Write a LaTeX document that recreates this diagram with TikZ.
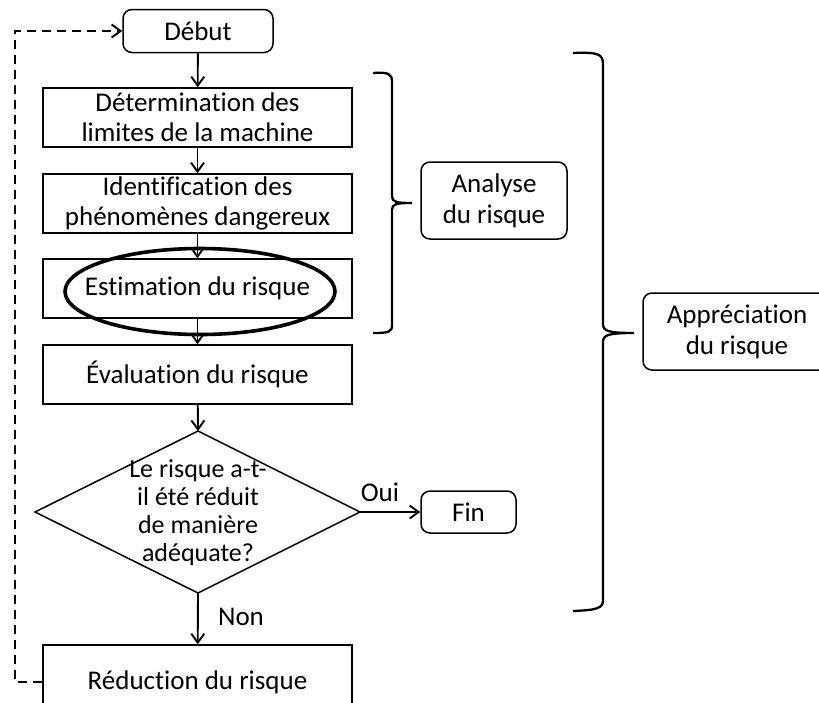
\documentclass[tikz,border=0pt]{standalone}
\usepackage{fontspec}
\setmainfont{Carlito}[RawFeature=-liga]
\usetikzlibrary{arrows.meta}

\tikzset{
  box/.style={draw, line width=1.5pt, minimum width=309pt, minimum height=59pt,
              inner sep=0pt, align=center, font=\fontsize{27}{30}\selectfont},
  rbox/.style={draw, line width=1.5pt, rounded corners=9pt, inner sep=0pt,
               align=center, font=\fontsize{27}{31}\selectfont},
  flow/.style={line width=1.9pt, -{Straight Barb[length=9pt,width=13pt]}},
  loop/.style={line width=1.9pt, dash pattern=on 9pt off 6pt,
               -{Straight Barb[length=9pt,width=13pt]}},
  brace/.style={line width=2.3pt},
  lbl/.style={font=\fontsize{27}{30}\selectfont, inner sep=0pt}
}

\begin{document}
\begin{tikzpicture}[x=1pt, y=-1pt]
\useasboundingbox (0,0) rectangle (819,702);

% start / process boxes
\node[rbox, minimum width=150pt, minimum height=43pt] (debut) at (198,31) {Début};
\node[box] (lim)  at (197.5,117.5) {Détermination des\\limites de la machine};
\node[box] (ident) at (197.5,203.5) {Identification des\\phénomènes dangereux};
\node[box] (estim) at (197.5,288.5) {Estimation du risque};
\node[box] (eval) at (197.5,374.5) {Évaluation du risque};
\node[box, minimum height=74pt] (reduc) at (197.5,682) {};
\node[lbl] at (197.5,682) {Réduction du risque};

% decision
\coordinate (dtop) at (198,431);
\coordinate (dleft) at (35,512);
\coordinate (dright) at (360,512);
\coordinate (dbot) at (198,593);
\draw[line width=1.5pt] (dtop) -- (dright) -- (dbot) -- (dleft) -- cycle;
\node[align=center, inner sep=0pt, font=\fontsize{26}{28}\selectfont] (q) at (198,513)
  {Le risque a-t-\\il été réduit\\de manière\\adéquate?};

\node[rbox, minimum width=95pt, minimum height=42pt] (fin) at (468.5,512) {Fin};

% grouping labels
\node[rbox, minimum width=146pt, minimum height=77pt] (analyse) at (494,200.5) {Analyse\\du risque};
\node[rbox, minimum width=188pt, minimum height=77pt] (apprec) at (737,331.5) {Appréciation\\du risque};

% connectors
\draw[flow] (debut) -- (lim);
\draw[flow] (lim) -- (ident);
\draw[flow] (ident) -- (estim);
\draw[flow] (estim) -- (eval);
\draw[flow] (eval) -- (dtop);
\draw[flow] (dright) -- (fin);
\draw[flow] (dbot) -- (reduc);
\node[lbl] (oui) at (380,492) {Oui};
\node[lbl] (non) at (241,617) {Non};

% feedback loop
\coordinate (corner) at (15,682);
\draw[loop] (reduc.west) -- (corner) |- (debut.west);

% emphasis on risk estimation
\draw[line width=3.6pt] (200,291.5) ellipse [x radius=135, y radius=43];

% brace for risk analysis
\draw[brace] (373,73) .. controls (389,72) and (392,74) .. (392,82)
  -- (392,196) .. controls (392,202) and (396,203) .. (412,203)
  .. controls (396,203) and (392,204) .. (392,210)
  -- (392,325) .. controls (392,332) and (389,333) .. (373,333);

% brace for risk assessment
\draw[brace] (573,53) .. controls (598,52) and (603,54) .. (603,64)
  -- (603,324) .. controls (603,331) and (608,333) .. (634,333)
  .. controls (608,333) and (603,335) .. (603,342)
  -- (603,600) .. controls (603,608) and (598,610) .. (573,611);
\end{tikzpicture}
\end{document}
